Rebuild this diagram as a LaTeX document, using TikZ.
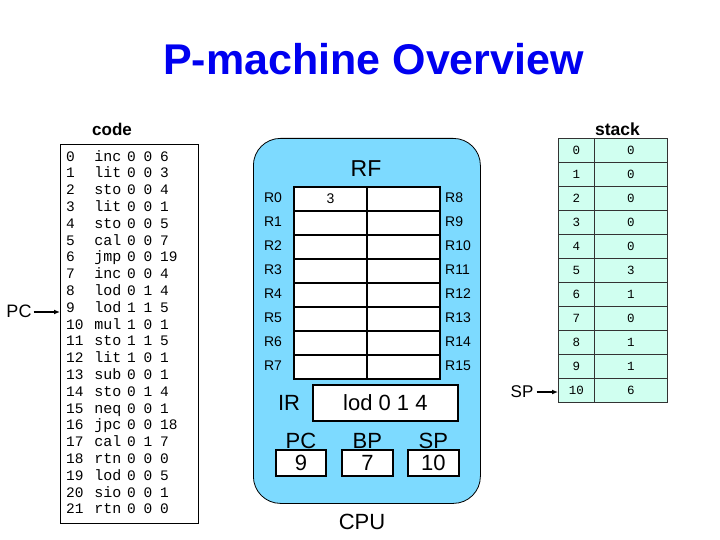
\documentclass[tikz,border=0pt]{standalone}
\usepackage{fontspec}
\setmainfont{Liberation Sans}
\setmonofont{Liberation Mono}
\usetikzlibrary{arrows.meta}
\definecolor{cpublue}{RGB}{125,218,255}
\definecolor{stackfill}{RGB}{208,255,240}
\definecolor{titleblue}{RGB}{0,0,240}
\tikzset{
  regcell/.style={draw, line width=2pt, fill=white, minimum width=73pt, minimum height=24pt, inner sep=0pt, anchor=north west, font=\fontsize{14}{14}\selectfont},
  stackcell/.style={draw=black!80, line width=0.8pt, fill=stackfill, minimum height=24pt, inner sep=0pt, anchor=north west, font=\ttfamily\fontsize{12.5}{13}\selectfont},
  valbox/.style={draw, line width=1.8pt, fill=white, minimum width=50pt, minimum height=26pt, inner sep=0pt, anchor=north west, font=\fontsize{22}{22}\selectfont},
  codetxt/.style={font=\ttfamily\fontsize{14.5}{15}\selectfont, inner sep=0pt},
  optxt/.style={font=\ttfamily\fontsize{15}{15}\selectfont, inner sep=0pt},
  reglbl/.style={font=\fontsize{14}{14}\selectfont, inner sep=0pt},
  bigtxt/.style={font=\fontsize{22}{22}\selectfont, inner sep=0pt},
  ptr/.style={line width=1.2pt, -{Latex[length=6pt,width=5pt]}}
}
\begin{document}
\begin{tikzpicture}[x=1pt,y=-1pt]
\useasboundingbox (0,0) rectangle (720,540);
% title
\node[font=\bfseries\fontsize{43}{43}\selectfont, text=titleblue, inner sep=0pt, anchor=base] (title) at (373.5,75) {P-machine Overview};
% code
\node[font=\bfseries\fontsize{17}{17}\selectfont, inner sep=0pt] (codelbl) at (112,129) {code};
\node[draw, line width=0.8pt, minimum width=138pt, minimum height=379pt, inner sep=0pt, anchor=north west] (codebox) at (60,144) {};
\foreach \n/\op/\a/\b/\c in {0/inc/0/0/6,1/lit/0/0/3,2/sto/0/0/4,3/lit/0/0/1,4/sto/0/0/5,5/cal/0/0/7,6/jmp/0/0/19,7/inc/0/0/4,8/lod/0/1/4,9/lod/1/1/5,10/mul/1/0/1,11/sto/1/1/5,12/lit/1/0/1,13/sub/0/0/1,14/sto/0/1/4,15/neq/0/0/1,16/jpc/0/0/18,17/cal/0/1/7,18/rtn/0/0/0,19/lod/0/0/5,20/sio/0/0/1,21/rtn/0/0/0}{
  \node[codetxt, anchor=base west] (cn\n) at (66,{161.1+16.8*\n}) {\n};
  \node[optxt, anchor=base] (co\n) at (108,{161.1+16.8*\n}) {\op};
  \node[codetxt, anchor=base] (ca\n) at (131.5,{161.1+16.8*\n}) {\a};
  \node[codetxt, anchor=base] (cb\n) at (148,{161.1+16.8*\n}) {\b};
  \node[codetxt, anchor=base west] (cc\n) at (160,{161.1+16.8*\n}) {\c};
}
\node[font=\fontsize{18}{18}\selectfont, inner sep=1pt] (pclbl) at (19,311) {PC};
\draw[ptr] (pclbl.east) ++(1pt,-1pt) coordinate (pcs) -- (pcs -| codebox.west);
% CPU
\node[draw, line width=0.8pt, fill=cpublue, rounded corners=27pt, minimum width=227pt, minimum height=365pt, inner sep=0pt, anchor=north west] (cpu) at (253,138) {};
\node[font=\fontsize{23}{23}\selectfont, inner sep=0pt] (rf) at (366,169) {RF};
\foreach \i in {0,...,7}{
  \pgfmathtruncatemacro{\j}{\i+8}
  \node[regcell] (rl\i) at (293,{186+24*\i}) {};
  \node[regcell] (rr\i) at (366,{186+24*\i}) {};
  \node[reglbl] (lblL\i) at (273,{198+24*\i}) {R\i};
  \node[reglbl, anchor=west] (lblR\i) at (445,{198+24*\i}) {R\j};
}
\node[reglbl] (r0val) at (rl0.center) {3};
\node[bigtxt] (irlbl) at (289,403) {IR};
\node[draw, line width=1.8pt, fill=white, minimum width=145pt, minimum height=36pt, inner sep=0pt, anchor=north west, font=\fontsize{22}{22}\selectfont] (irbox) at (312,384) {lod 0 1 4};
\node[valbox] (pcbox) at (275,449) {9};
\node[valbox, minimum width=51pt] (bpbox) at (341,449) {7};
\node[valbox, minimum width=51pt] (spbox) at (407,449) {10};
\node[bigtxt, anchor=base] (pcl) at (pcbox.north |- 0,448) {PC};
\node[bigtxt, anchor=base] (bpl) at (bpbox.north |- 0,448) {BP};
\node[bigtxt, anchor=base] (spl) at (spbox.north |- 0,448) {SP};
\node[bigtxt] (cpulbl) at (362,522) {CPU};
% stack
\node[font=\bfseries\fontsize{17.5}{17.5}\selectfont, inner sep=0pt] (stacklbl) at (617.5,129) {stack};
\foreach \i/\v in {0/0,1/0,2/0,3/0,4/0,5/3,6/1,7/0,8/1,9/1,10/6}{
  \node[stackcell, minimum width=36pt] (si\i) at (558,{138+24*\i}) {\i};
  \node[stackcell, minimum width=73pt] (sv\i) at (594,{138+24*\i}) {\v};
}
\node[font=\fontsize{17}{17}\selectfont, inner sep=1pt] (splbl) at (522,392) {SP};
\draw[ptr] (splbl.east) ++(2pt,0) coordinate (sps) -- (sps -| si10.west);
\end{tikzpicture}
\end{document}
